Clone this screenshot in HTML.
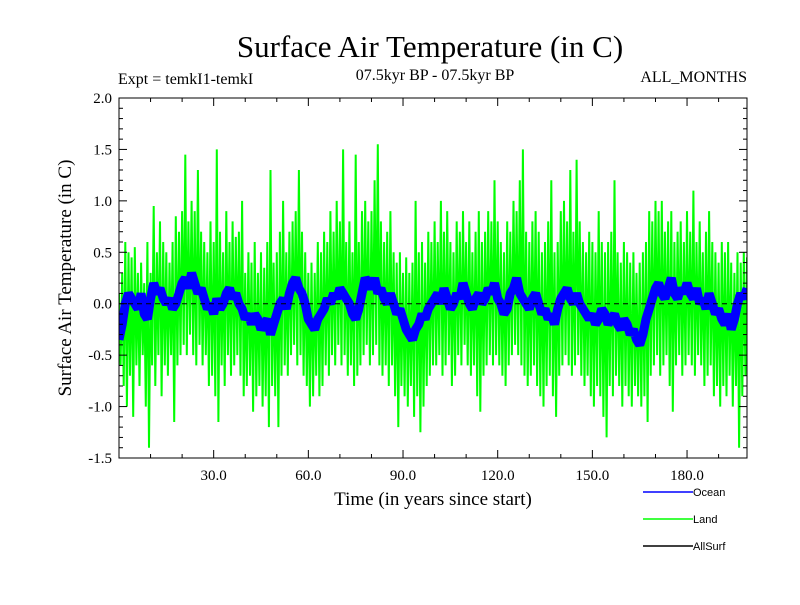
<!DOCTYPE html>
<html><head><meta charset="utf-8"><style>
body{margin:0;background:#fff}
svg text{font-family:"Liberation Serif",serif;fill:#000}
</style></head><body>
<svg id="chart" width="800" height="600">
<defs><clipPath id="plotclip"><rect x="119" y="98" width="628" height="360"/></clipPath></defs>
<text x="430" y="57" font-size="31" text-anchor="middle">Surface Air Temperature (in C)</text>
<text x="118" y="84" font-size="16">Expt = temkI1-temkI</text>
<text x="435" y="80" font-size="16" text-anchor="middle">07.5kyr BP - 07.5kyr BP</text>
<text x="747" y="82" font-size="16" text-anchor="end">ALL_MONTHS</text>
<text transform="translate(71,278) rotate(-90)" font-size="19" text-anchor="middle">Surface Air Temperature (in C)</text>
<text x="433" y="505" font-size="19" text-anchor="middle">Time (in years since start)</text>
<g id="series" clip-path="url(#plotclip)"></g>
<g id="axes"></g>
<g>
<line x1="643" y1="492" x2="693" y2="492" stroke="#0000ff" stroke-width="1.5"/>
<text x="693" y="496" font-size="11" style="font-family:'Liberation Sans',sans-serif">Ocean</text>
<line x1="643" y1="519" x2="693" y2="519" stroke="#00ff00" stroke-width="1.5"/>
<text x="693" y="523" font-size="11" style="font-family:'Liberation Sans',sans-serif">Land</text>
<line x1="643" y1="546" x2="693" y2="546" stroke="#000" stroke-width="1.5"/>
<text x="693" y="550" font-size="11" style="font-family:'Liberation Sans',sans-serif">AllSurf</text>
</g>
</svg>
<script>
const ocean=[-0.35,-0.2,0.0,0.1,0.05,0.0,-0.05,0.1,-0.1,-0.15,0.05,0.2,0.1,0.15,0.05,0.0,0.05,-0.05,0.0,0.1,
0.2,0.25,0.15,0.3,0.2,0.1,0.15,0.05,-0.05,0.0,-0.1,0.05,-0.05,0.0,0.1,0.15,0.05,0.1,0.0,-0.05,
-0.15,-0.1,-0.2,-0.1,-0.15,-0.25,-0.2,-0.15,-0.3,-0.2,-0.1,0.0,0.05,-0.05,0.1,0.2,0.25,0.15,0.1,0.0,
-0.15,-0.2,-0.25,-0.15,-0.1,-0.05,0.05,0.0,0.1,0.05,0.15,0.1,0.05,0.0,-0.1,-0.15,-0.05,0.1,0.25,0.2,
0.15,0.25,0.1,0.15,0.05,0.0,0.1,0.0,-0.1,-0.05,-0.15,-0.25,-0.3,-0.35,-0.25,-0.2,-0.1,-0.15,-0.05,0.0,
0.05,0.1,0.0,0.15,0.05,-0.05,0.0,0.1,0.05,0.2,0.1,0.0,-0.05,0.05,0.1,0.0,0.05,0.15,0.1,0.2,
0.05,0.0,-0.1,-0.05,0.1,0.15,0.25,0.1,0.05,0.0,-0.05,0.05,0.1,0.0,-0.1,-0.05,-0.15,-0.1,-0.2,-0.05,
0.05,0.1,0.15,0.05,0.0,0.1,0.0,-0.05,-0.1,-0.15,-0.1,-0.2,-0.15,-0.05,-0.1,-0.2,-0.15,-0.1,-0.2,-0.25,
-0.15,-0.2,-0.3,-0.25,-0.35,-0.4,-0.3,-0.15,-0.05,0.05,0.15,0.2,0.1,0.05,0.15,0.25,0.1,0.05,0.15,0.1,
0.2,0.1,0.05,0.15,0.0,0.05,-0.05,0.1,0.0,-0.1,-0.05,-0.15,-0.2,-0.1,-0.25,-0.15,0.0,0.1,0.05,0.15];
const landHi=[0.1,0.3,0.6,0.5,0.45,0.55,0.3,0.4,0.2,0.6,0.3,0.95,0.5,0.8,0.6,0.5,0.4,0.6,0.85,0.7,
0.9,1.45,0.8,1.0,0.9,1.3,0.7,0.6,0.5,0.8,0.6,1.5,0.7,0.5,0.9,0.6,0.8,0.65,0.7,1.0,
0.3,0.5,0.4,0.6,0.3,0.5,0.35,0.6,1.3,0.4,0.5,0.7,1.0,0.5,0.7,0.8,0.9,1.3,0.7,0.5,
0.3,0.4,0.3,0.6,0.5,0.7,0.6,0.9,0.7,1.0,0.8,1.5,0.6,0.8,0.5,1.45,0.6,0.9,1.0,0.8,
0.9,1.2,1.55,0.8,0.6,0.7,0.9,0.5,0.4,0.5,0.3,0.45,0.3,0.4,1.0,0.5,0.6,0.4,0.7,0.6,
0.8,0.6,1.0,0.7,0.9,0.6,0.5,0.8,0.7,0.9,0.6,0.8,0.5,0.7,0.9,0.6,0.7,0.9,0.8,1.2,
0.8,0.6,0.5,0.8,0.7,1.0,0.9,1.2,1.5,0.7,0.6,0.8,0.9,0.7,0.5,0.6,0.8,1.2,0.5,0.6,
0.9,1.0,0.8,1.3,0.7,1.4,0.8,0.6,0.5,0.7,0.6,0.5,0.9,0.6,0.5,0.6,0.7,1.2,0.5,0.4,
0.6,0.5,0.4,0.5,0.3,0.4,0.5,0.6,0.9,0.8,1.0,0.9,1.0,0.7,0.8,0.9,0.6,0.7,0.8,0.6,
0.9,0.7,1.1,0.6,0.8,0.5,0.7,0.9,0.6,0.5,0.4,0.6,0.5,0.6,0.4,0.3,0.5,0.4,0.5,0.45];
const landLo=[-0.6,-0.8,-1.0,-0.7,-1.1,-0.6,-0.8,-0.5,-1.0,-1.4,-0.6,-0.8,-0.5,-0.9,-0.6,-0.7,-0.5,-1.15,-0.6,-0.5,
-0.4,-0.5,-0.3,-0.5,-0.6,-0.4,-0.6,-0.5,-0.8,-0.7,-0.9,-1.15,-0.6,-0.8,-0.5,-0.7,-0.6,-0.5,-0.7,-0.9,
-0.8,-0.7,-1.05,-0.9,-0.8,-1.0,-0.9,-1.2,-0.8,-0.9,-1.2,-0.7,-0.6,-0.7,-0.5,-0.4,-0.6,-0.5,-0.7,-0.8,
-1.0,-0.9,-0.7,-0.9,-0.8,-0.6,-0.7,-0.5,-0.6,-0.4,-0.6,-0.5,-0.7,-0.6,-0.8,-0.7,-0.6,-0.5,-0.4,-0.6,
-0.5,-0.4,-0.6,-0.7,-0.6,-0.8,-0.6,-0.9,-1.2,-0.8,-0.9,-1.0,-0.8,-1.1,-0.9,-1.25,-1.0,-0.8,-0.7,-0.6,
-0.6,-0.5,-0.7,-0.6,-0.5,-0.8,-0.7,-0.5,-0.6,-0.4,-0.6,-0.7,-0.6,-0.9,-1.05,-0.7,-0.6,-0.5,-0.6,-0.5,
-0.6,-0.7,-0.8,-0.6,-0.5,-0.4,-0.5,-0.6,-0.7,-0.8,-0.7,-0.6,-0.8,-0.9,-1.0,-0.8,-0.7,-0.9,-1.1,-0.7,
-0.6,-0.5,-0.6,-0.7,-0.6,-0.5,-0.7,-0.8,-0.7,-0.9,-1.0,-0.8,-0.9,-1.1,-1.3,-0.8,-0.9,-0.7,-0.8,-1.0,
-0.8,-0.9,-1.0,-0.8,-0.9,-1.0,-0.9,-1.15,-0.7,-0.6,-0.5,-0.7,-0.6,-0.5,-0.8,-1.05,-0.6,-0.5,-0.7,-0.6,
-0.5,-0.6,-0.7,-0.5,-0.6,-0.8,-0.7,-0.6,-0.9,-0.8,-1.0,-0.8,-0.9,-0.7,-1.0,-0.8,-1.4,-0.9,-0.7,-0.5];
const xTicks=[30,60,90,120,150,180];
const xTickLabels=["30.0","60.0","90.0","120.0","150.0","180.0"];
const yTicks=[-1.5,-1.0,-0.5,0.0,0.5,1.0,1.5,2.0];
const yTickLabels=["-1.5","-1.0","-0.5","0.0","0.5","1.0","1.5","2.0"];

const L=119,R=747,T=98,B=458;
const xS=t=>L+t*(R-L)/199;
const yS=v=>B-(v+1.5)*(B-T)/3.5;
const NS="http://www.w3.org/2000/svg";
const series=document.getElementById('series');
const axes=document.getElementById('axes');
function mk(tag,attrs,parent){const e=document.createElementNS(NS,tag);for(const k in attrs)e.setAttribute(k,attrs[k]);parent.appendChild(e);return e;}

let lp=[];
landHi.forEach((v,i)=>{lp.push(xS(i).toFixed(1)+','+yS(v).toFixed(1));lp.push(xS(Math.min(i+0.5,199)).toFixed(1)+','+yS(landLo[i]).toFixed(1));});
const land=mk('polyline',{points:lp.join(' '),fill:'none',stroke:'#00ff00','stroke-width':2},series);



const op=ocean.map((v,i)=>xS(i).toFixed(1)+','+yS(v).toFixed(1)).join(' ');
const oc=mk('polyline',{points:op,fill:'none',stroke:'#0000ff','stroke-width':9,'stroke-linejoin':'bevel'},series);



const zl=mk('line',{x1:L,x2:R,y1:yS(0),y2:yS(0),stroke:'#000','stroke-dasharray':'5,4','stroke-width':1},series);



const frame=mk('rect',{x:L,y:T,width:R-L,height:B-T,fill:'none',stroke:'#000','stroke-width':1},axes);



for(let t=10;t<199;t+=10){const major=t%30===0;const len=major?8:4;
mk('line',{x1:xS(t),x2:xS(t),y1:B,y2:B-len,stroke:'#000'},axes);
mk('line',{x1:xS(t),x2:xS(t),y1:T,y2:T+len,stroke:'#000'},axes);}
for(let k=-14;k<20;k++){const v=k/10;const major=k%5===0;const len=major?8:4;
mk('line',{x1:L,x2:L+len,y1:yS(v),y2:yS(v),stroke:'#000'},axes);
mk('line',{x1:R,x2:R-len,y1:yS(v),y2:yS(v),stroke:'#000'},axes);}

xTicks.forEach((t,i)=>{const tx=mk('text',{x:xS(t),y:B+22,'font-size':15,'text-anchor':'middle'},axes);tx.textContent=xTickLabels[i];

});
yTicks.forEach((v,i)=>{const tx=mk('text',{x:L-7,y:yS(v)+5,'font-size':15,'text-anchor':'end'},axes);tx.textContent=yTickLabels[i];

});
</script>
</body></html>
